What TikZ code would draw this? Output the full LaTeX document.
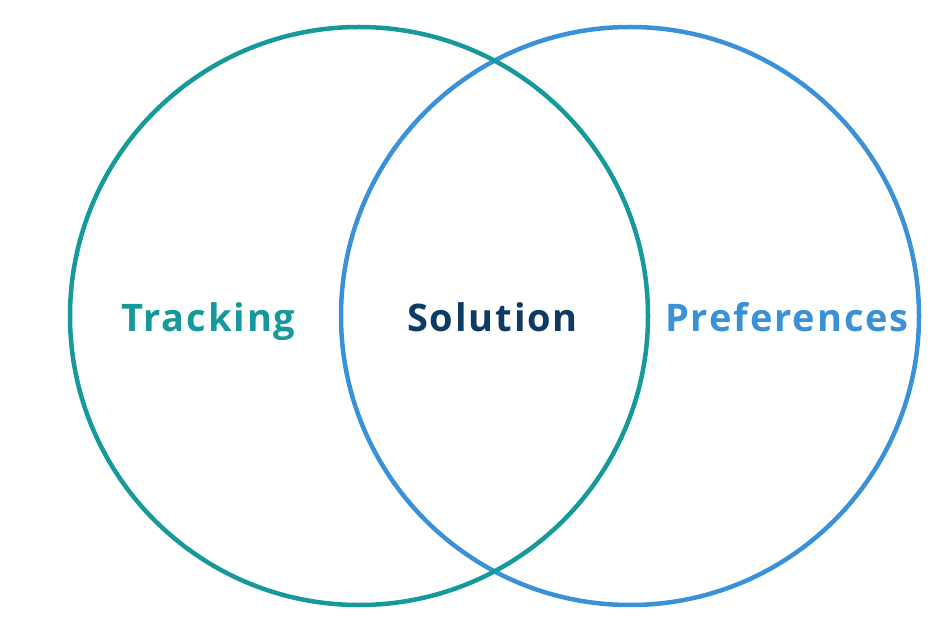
\documentclass[tikz,border=0pt]{standalone}
\usepackage{fontspec}
\setmainfont{Open Sans}[Ligatures=NoCommon]
\definecolor{cteal}{HTML}{16999B}
\definecolor{cnavy}{HTML}{0E3B63}
\definecolor{cblue}{HTML}{3A91D7}
\begin{document}
\begin{tikzpicture}[x=1pt,y=1pt,
  ring/.style={line width=4.5pt,fill=none},
  lbl/.style={font=\fontsize{38}{45}\selectfont\bfseries\addfontfeature{LetterSpace=5},anchor=base,inner sep=0pt}]
\useasboundingbox (0,0) rectangle (943,622);
\draw[ring,cblue] (630,306) circle[radius=289];
\draw[ring,cteal] (359,306) circle[radius=289];
\node[lbl,text=cteal] (tracking) at (208.5,290) {Tracking};
\node[lbl,text=cnavy] (solution) at (492.5,290) {Solution};
\node[lbl,text=cblue] (prefs) at (787,290) {Preferences};
\end{tikzpicture}
\end{document}
